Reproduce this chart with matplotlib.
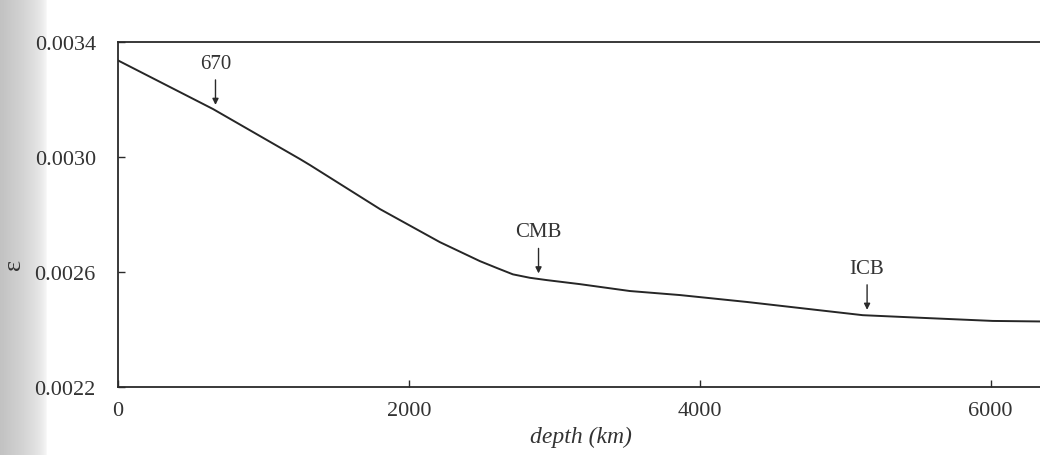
import numpy as np
import matplotlib.pyplot as plt

# ellipticity of the level surfaces against depth
depth = [0, 653, 1251, 1320, 1801, 2213, 2488, 2605, 2715, 2832, 2948,
         3175, 3519, 3863, 4323, 4756, 5120, 5560, 6014, 6371]
eps = [0.003336, 0.003167, 0.002993, 0.002972, 0.002819, 0.002704, 0.002638,
       0.002614, 0.002592, 0.002580, 0.002572, 0.002558, 0.002534, 0.002520,
       0.002496, 0.002471, 0.002450, 0.002440, 0.002430, 0.002428]

# labelled boundaries: name, depth (km)
marks = ["670", "CMB", "ICB"]
mark_depth = [670, 2891, 5150]

xticks = [0, 2000, 4000, 6000]
yticks = [0.0022, 0.0026, 0.0030, 0.0034]

plt.rcParams['font.family'] = ['Liberation Serif', 'DejaVu Serif']
plt.rcParams['font.size'] = 16

fig = plt.figure(figsize=(10.4, 4.56), dpi=100)

# shaded page edge on the left
bg = fig.add_axes([0, 0, 1, 1], zorder=-1)
xs = np.linspace(0, 1, 1040)
shade = 1 - 0.24 * np.clip(1 - xs / 0.045, 0, 1) ** 0.5
bg.imshow(np.tile(shade, (10, 1)), cmap='gray', vmin=0, vmax=1,
          aspect='auto', extent=[0, 1, 0, 1])
bg.set_axis_off()

ax = fig.add_axes([0.1135, 0.149, 0.891, 0.7566])
ax.set_facecolor('none')
ax.plot(depth, eps, color='#262626', lw=1.4)

ax.set_xlim(0, 6371)
ax.set_ylim(0.0022, 0.0034)
ax.set_xticks(xticks)
ax.set_xticklabels([str(v) for v in xticks])
ax.set_yticks(yticks)
ax.set_yticklabels(["%.4f" % v for v in yticks])
ax.tick_params(direction='in', length=5, width=1, colors='#2a2a2a',
               labelcolor='#333333')
ax.tick_params(axis='y', pad=16)
ax.tick_params(axis='x', pad=10)
for s in ax.spines.values():
    s.set_linewidth(1.3)
    s.set_color('#2a2a2a')

ax.set_xlabel('depth (km)', style='italic', fontsize=17, color='#333333',
              labelpad=4)
ax.set_ylabel('ε', fontsize=19, color='#333333')
ax.yaxis.set_label_coords(-0.100, 0.357)

for name, d in zip(marks, mark_depth):
    e = np.interp(d, depth, eps)
    ax.annotate(name, xy=(d, e), xytext=(0, 27), textcoords='offset points',
                ha='center', va='bottom', fontsize=15, color='#333333',
                arrowprops=dict(arrowstyle='-|>', lw=1.0, color='#2a2a2a',
                                mutation_scale=9, shrinkA=3, shrinkB=4))

fig.savefig('out.png', dpi=100)
